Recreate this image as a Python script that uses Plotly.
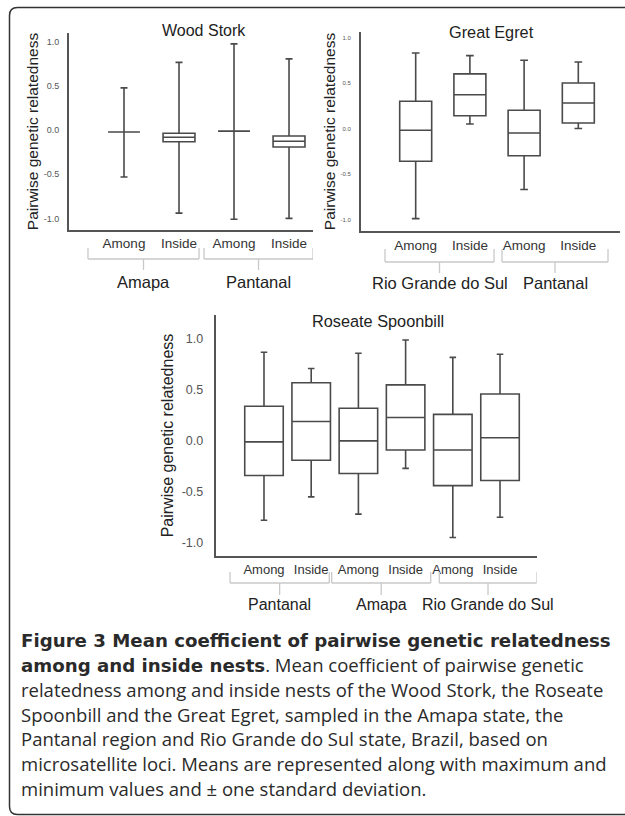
import plotly.graph_objects as go

# ---------------- data ----------------
y_tick_vals = [-1.0, -0.5, 0.0, 0.5, 1.0]
y_tick_text = ["-1.0", "-0.5", "0.0", "0.5", "1.0"]

ws_categories = ["Among", "Inside", "Among", "Inside"]
ws_groups = ["Amapa", "Pantanal"]
ws_upper = [0.48, 0.77, 0.98, 0.81]
ws_q3 = [-0.02, -0.035, -0.01, -0.065]
ws_median = [-0.02, -0.08, -0.01, -0.125]
ws_q1 = [-0.02, -0.13, -0.01, -0.19]
ws_lower = [-0.53, -0.94, -1.01, -1.00]

ge_categories = ["Among", "Inside", "Among", "Inside"]
ge_groups = ["Rio Grande do Sul", "Pantanal"]
ge_upper = [0.83, 0.80, 0.75, 0.73]
ge_q3 = [0.30, 0.60, 0.20, 0.50]
ge_median = [-0.02, 0.37, -0.05, 0.28]
ge_q1 = [-0.36, 0.14, -0.30, 0.06]
ge_lower = [-0.99, 0.05, -0.67, 0.00]

rs_categories = ["Among", "Inside", "Among", "Inside", "Among", "Inside"]
rs_groups = ["Pantanal", "Amapa", "Rio Grande do Sul"]
rs_upper = [0.87, 0.71, 0.86, 0.99, 0.82, 0.85]
rs_q3 = [0.34, 0.57, 0.32, 0.55, 0.26, 0.46]
rs_median = [-0.01, 0.19, 0.00, 0.23, -0.09, 0.03]
rs_q1 = [-0.34, -0.19, -0.32, -0.09, -0.44, -0.39]
rs_lower = [-0.78, -0.55, -0.72, -0.27, -0.95, -0.75]

titles = ["Wood Stork", "Great Egret", "Roseate Spoonbill"]
y_title = "Pairwise genetic relatedness"
BOLD = "<span style='font-family:DejaVu Sans;font-size:18.2px'><b>{}</b></span>"
caption_lines = [
    BOLD.format("Figure 3 Mean coefficient of pairwise genetic relatedness"),
    BOLD.format("among and inside nests") + ". Mean coefficient of pairwise genetic",
    "relatedness among and inside nests of the Wood Stork, the Roseate",
    "Spoonbill and the Great Egret, sampled in the Amapa state, the",
    "Pantanal region and Rio Grande do Sul state, Brazil, based on",
    "microsatellite loci. Means are represented along with maximum and",
    "minimum values and \u00b1 one standard deviation.",
]

# ---------------- layout helpers ----------------
W, H = 625, 816
def px(x):
    return x / W
def py(y):
    return 1 - y / H

FONT = "Liberation Sans, Arial, sans-serif"
BOX_COLOR = "#4a4a4a"
AXIS_COLOR = "#555555"
BRACKET_COLOR = "#c9c9c9"

panels = [
    dict(cats=ws_categories, groups=ws_groups, up=ws_upper, q3=ws_q3, med=ws_median,
         q1=ws_q1, lo=ws_lower, title=titles[0],
         x0=69, x1=313, y0=33, y1=230, xr=[-1.0, 3.436], yr=[-1.132, 1.103],
         bw=0.58, ww=0.22, tick_size=9, cat_size=13.5, grp_size=16.5, title_size=16,
         ytitle_size=15.5, title_xy=(204, 31), brackets=[(-0.655, 1.364), (1.455, 3.436)],
         br_y=(259, 248, 270), grp_y=282, standoff_tick=6, cat_standoff=0, ytitle_standoff=1),
    dict(cats=ge_categories, groups=ge_groups, up=ge_upper, q3=ge_q3, med=ge_median,
         q1=ge_q1, lo=ge_lower, title=titles[1],
         x0=361, x1=620, y0=32, y1=231, xr=[-1.009, 3.769], yr=[-1.126, 1.060],
         bw=0.59, ww=0.24, tick_size=6, cat_size=13.5, grp_size=16.5, title_size=16.3,
         ytitle_size=15.5, title_xy=(491, 32), brackets=[(-0.566, 1.445), (1.592, 3.548)],
         br_y=(262, 249, 273), grp_y=283, standoff_tick=7, cat_standoff=1, ytitle_standoff=1),
    dict(cats=rs_categories, groups=rs_groups, up=rs_upper, q3=rs_q3, med=rs_median,
         q1=rs_q1, lo=rs_lower, title=titles[2],
         x0=215.7, x1=536.7, y0=315, y1=556, xr=[-1.023, 5.777], yr=[-1.131, 1.236],
         bw=0.816, ww=0.17, tick_size=12.5, cat_size=13, grp_size=16, title_size=16.3,
         ytitle_size=16, title_xy=(378, 321),
         brackets=[(-0.72, 1.383), (1.434, 3.532), (3.714, 5.777)],
         br_y=(583, 572, 595), grp_y=604, standoff_tick=8, cat_standoff=0, ytitle_standoff=4),
]

fig = go.Figure()
shapes = []
annotations = []

for i, p in enumerate(panels):
    n = i + 1
    xa = "x" if n == 1 else f"x{n}"
    ya = "y" if n == 1 else f"y{n}"
    xs = list(range(len(p["cats"])))
    fig.add_trace(go.Box(
        x=xs, q1=p["q1"], median=p["med"], q3=p["q3"],
        lowerfence=p["lo"], upperfence=p["up"],
        width=p["bw"], whiskerwidth=p["ww"],
        fillcolor="rgba(255,255,255,0)",
        line=dict(color=BOX_COLOR, width=1.6),
        boxpoints=False, showlegend=False, hoverinfo="skip",
        xaxis=xa, yaxis=ya,
    ))
    xkey = "xaxis" if n == 1 else f"xaxis{n}"
    ykey = "yaxis" if n == 1 else f"yaxis{n}"
    fig.update_layout({
        xkey: dict(domain=[px(p["x0"]), px(p["x1"])], range=p["xr"], anchor=ya,
                   showline=True, linecolor=AXIS_COLOR, linewidth=2,
                   tickvals=xs, ticktext=p["cats"], ticks="", showgrid=False,
                   zeroline=False, fixedrange=True, ticklabelstandoff=p["cat_standoff"],
                   tickfont=dict(family=FONT, size=p["cat_size"], color="#333333")),
        ykey: dict(domain=[py(p["y1"]), py(p["y0"])], range=p["yr"], anchor=xa,
                   showline=True, linecolor=AXIS_COLOR, linewidth=2,
                   tickvals=y_tick_vals, ticktext=y_tick_text, ticks="",
                   showgrid=False, zeroline=False, fixedrange=True,
                   ticklabelstandoff=p["standoff_tick"],
                   tickfont=dict(family=FONT, size=p["tick_size"], color="#555555"),
                   title=dict(text=y_title, standoff=p["ytitle_standoff"],
                              font=dict(family=FONT, size=p["ytitle_size"], color="#222222"))),
    })
    # panel title
    annotations.append(dict(text=p["title"], x=px(p["title_xy"][0]), y=py(p["title_xy"][1]),
                            xref="paper", yref="paper", showarrow=False,
                            xanchor="center", yanchor="middle",
                            font=dict(family=FONT, size=p["title_size"], color="#222222")))
    # group brackets and labels
    yb, ytop, ymid = p["br_y"]
    for (a, b), g in zip(p["brackets"], p["groups"]):
        m = (a + b) / 2
        line = dict(color=BRACKET_COLOR, width=1.3)
        shapes.append(dict(type="line", xref=xa, yref="paper", x0=a, x1=b,
                           y0=py(yb), y1=py(yb), line=line))
        shapes.append(dict(type="line", xref=xa, yref="paper", x0=a, x1=a,
                           y0=py(yb), y1=py(ytop), line=line))
        shapes.append(dict(type="line", xref=xa, yref="paper", x0=b, x1=b,
                           y0=py(yb), y1=py(ytop), line=line))
        shapes.append(dict(type="line", xref=xa, yref="paper", x0=m, x1=m,
                           y0=py(yb), y1=py(ymid), line=line))
        annotations.append(dict(text=g, x=m, y=py(p["grp_y"]), xref=xa, yref="paper",
                                showarrow=False, xanchor="center", yanchor="middle",
                                font=dict(family=FONT, size=p["grp_size"], color="#222222")))

# caption
CAP_FONT = "Open Sans, Noto Sans, sans-serif"
cap_y0, cap_dy = 640, 24.7
for k, t in enumerate(caption_lines):
    annotations.append(dict(text=t, x=px(19), y=py(cap_y0 + k * cap_dy), xref="paper", yref="paper",
                            showarrow=False, xanchor="left", yanchor="middle",
                            font=dict(family=CAP_FONT, size=18.5, color="#2a2a2a")))

# frame with rounded corners (top & left visible)
r = 8
fx, fy0, fy1 = 9.5, 7.5, 814.5
path = (f"M {px(W + 5)},{py(fy0)} L {px(fx + r)},{py(fy0)} "
        f"Q {px(fx)},{py(fy0)} {px(fx)},{py(fy0 + r)} "
        f"L {px(fx)},{py(fy1 - r)} Q {px(fx)},{py(fy1)} {px(fx + r)},{py(fy1)} "
        f"L {px(W + 5)},{py(fy1)}")
shapes.append(dict(type="path", xref="paper", yref="paper", path=path,
                   line=dict(color="#333333", width=1.5)))

fig.update_layout(
    width=W, height=H, margin=dict(l=0, r=0, t=0, b=0),
    paper_bgcolor="white", plot_bgcolor="white",
    shapes=shapes, annotations=annotations,
    font=dict(family=FONT),
)

fig.write_html("out.html", config={"displayModeBar": False},
               post_script="document.body.style.margin='0';document.body.style.overflow='hidden';")
